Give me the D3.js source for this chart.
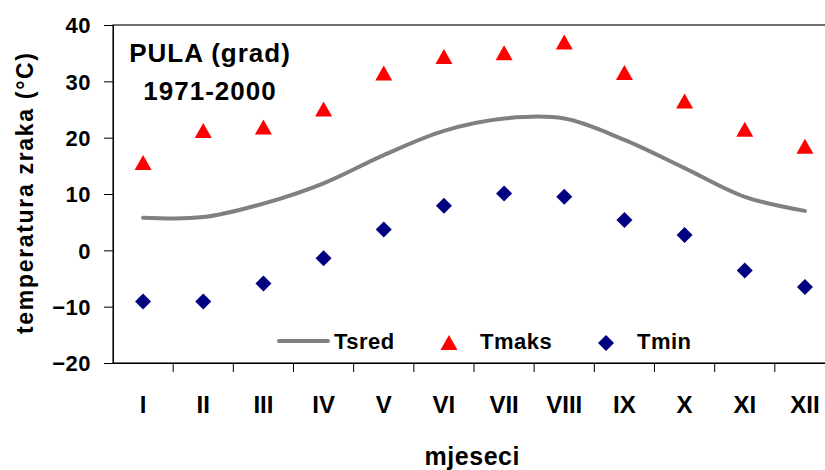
<!DOCTYPE html>
<html>
<head>
<meta charset="utf-8">
<script src="https://cdn.jsdelivr.net/npm/d3@7"></script>
<style>
  body { margin: 0; background: #fff; }
  text { font-family: "Liberation Sans", Arial, sans-serif; font-weight: bold; fill: #000; }
</style>
</head>
<body>
<div id="chart"></div>
<script>
const months = ["I", "II", "III", "IV", "V", "VI", "VII", "VIII", "IX", "X", "XI", "XII"];
const tsred = [5.8, 5.9, 8.3, 11.9, 16.9, 21.2, 23.4, 23.4, 19.6, 14.6, 9.5, 7.0];
const tmaks = [15.5, 21.2, 21.8, 25.0, 31.4, 34.3, 35.0, 36.9, 31.5, 26.4, 21.4, 18.4];
const tmin = [-9.1, -9.1, -5.9, -1.4, 3.7, 7.9, 10.1, 9.5, 5.4, 2.7, -3.6, -6.5];
const yTicks = [-20, -10, 0, 10, 20, 30, 40];

const width = 825, height = 470;
const plot = { left: 113, right: 835, top: 25, bottom: 363 };

const svg = d3.select("#chart").append("svg")
  .attr("width", width)
  .attr("height", height);

const x = d3.scaleBand().domain(months).range([plot.left, plot.right]);
const y = d3.scaleLinear().domain([-20, 40]).range([plot.bottom, plot.top]);

// plot area border (right edge falls outside the picture)
svg.append("rect")
  .attr("x", plot.left).attr("y", plot.top)
  .attr("width", plot.right - plot.left).attr("height", plot.bottom - plot.top)
  .attr("fill", "none").attr("stroke", "#111").attr("stroke-width", 1.2);

// y axis
const yAxis = svg.append("g")
  .attr("transform", `translate(${plot.left},0)`)
  .call(d3.axisLeft(y).tickValues(yTicks).tickSize(9).tickPadding(13));
yAxis.select(".domain").attr("stroke", "#000");
yAxis.selectAll("line").attr("stroke", "#000");
yAxis.selectAll("text")
  .style("font-size", "22px")
  .style("letter-spacing", "0.5px")
  .attr("dy", "0.36em");

// x axis
const xAxis = svg.append("g")
  .attr("transform", `translate(0,${plot.bottom})`)
  .call(d3.axisBottom(x).tickSize(0).tickPadding(33));
xAxis.select(".domain").attr("stroke", "#000");
xAxis.selectAll("text").style("font-size", "24px");
// ticks between categories
xAxis.selectAll(".sep")
  .data(months.slice(1))
  .join("line")
  .attr("class", "sep")
  .attr("x1", d => x(d)).attr("x2", d => x(d))
  .attr("y1", 0).attr("y2", 9)
  .attr("stroke", "#000");

// axis titles
svg.append("text")
  .attr("transform", `translate(33,193.5) rotate(-90)`)
  .attr("text-anchor", "middle")
  .attr("textLength", 281)
  .attr("lengthAdjust", "spacing")
  .style("font-size", "23px")
  .text("temperatura zraka (°C)");

svg.append("text")
  .attr("x", 472).attr("y", 465)
  .attr("text-anchor", "middle")
  .attr("textLength", 95)
  .attr("lengthAdjust", "spacing")
  .style("font-size", "25px")
  .text("mjeseci");

// title
const title = svg.append("text")
  .attr("text-anchor", "middle")
  .style("font-size", "26px")
  .style("letter-spacing", "1px");
title.append("tspan").attr("x", 210).attr("y", 62).text("PULA (grad)");
title.append("tspan").attr("x", 210).attr("y", 100).text("1971-2000");

const cx = d => x(d) + x.bandwidth() / 2;
const triangle = "M0,-8L8.5,7L-8.5,7Z";
const diamond = "M0,-8L8,0L0,8L-8,0Z";

// Tsred smoothed line
const line = d3.line()
  .x((d, i) => cx(months[i]))
  .y(d => y(d))
  .curve(d3.curveCatmullRom.alpha(0.5));

svg.append("path")
  .datum(tsred)
  .attr("d", line)
  .attr("fill", "none")
  .attr("stroke", "#808080")
  .attr("stroke-width", 4)
  .attr("stroke-linecap", "round");

// Tmaks triangles
svg.append("g")
  .selectAll("path")
  .data(tmaks)
  .join("path")
  .attr("d", triangle)
  .attr("transform", (d, i) => `translate(${cx(months[i])},${y(d)})`)
  .attr("fill", "#ff0000");

// Tmin diamonds
svg.append("g")
  .selectAll("path")
  .data(tmin)
  .join("path")
  .attr("d", diamond)
  .attr("transform", (d, i) => `translate(${cx(months[i])},${y(d)})`)
  .attr("fill", "#000080");

// legend
const legend = svg.append("g").style("font-size", "22px");
legend.append("line")
  .attr("x1", 279).attr("x2", 328)
  .attr("y1", 341).attr("y2", 341)
  .attr("stroke", "#808080").attr("stroke-width", 4)
  .attr("stroke-linecap", "round");
legend.append("text").attr("x", 334).attr("y", 349).style("letter-spacing", "0.5px").text("Tsred");
legend.append("path").attr("d", triangle)
  .attr("transform", "translate(449,343)").attr("fill", "#ff0000");
legend.append("text").attr("x", 480).attr("y", 349).style("letter-spacing", "0.5px").text("Tmaks");
legend.append("path").attr("d", diamond)
  .attr("transform", "translate(606,343)").attr("fill", "#000080");
legend.append("text").attr("x", 637).attr("y", 349).style("letter-spacing", "0.5px").text("Tmin");
</script>
</body>
</html>
